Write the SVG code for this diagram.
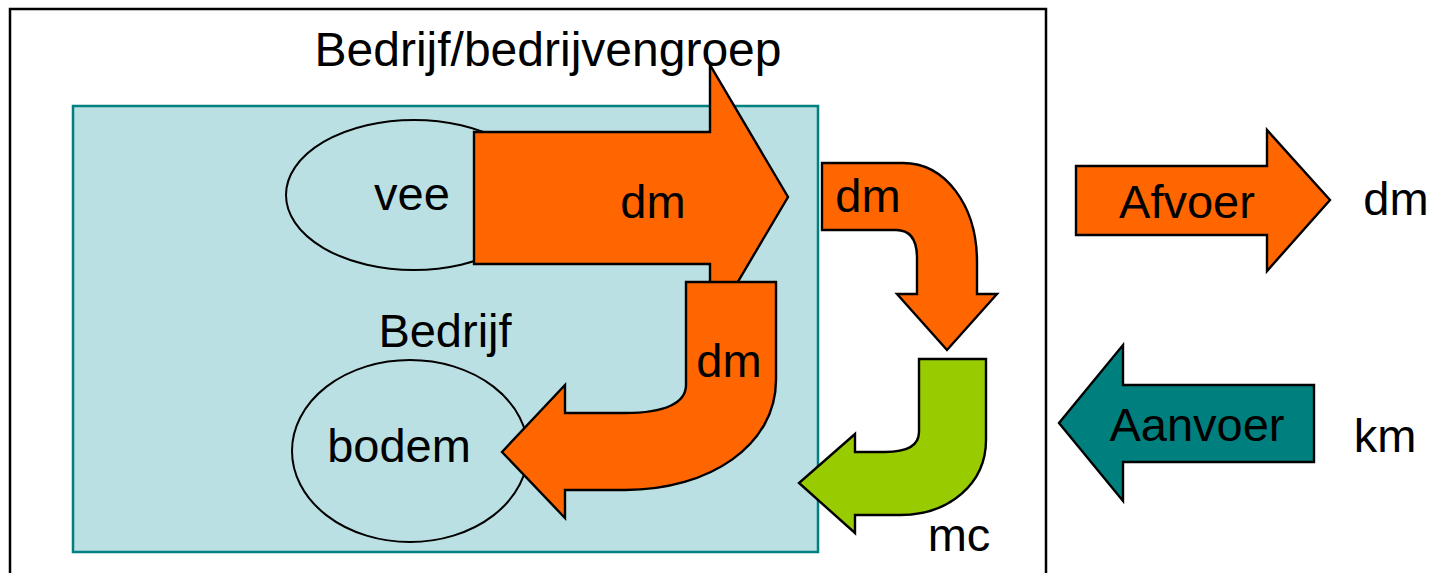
<svg xmlns="http://www.w3.org/2000/svg" width="1433" height="573" viewBox="0 0 1433 573">
  <style>
    text { font-family: "Liberation Sans", Arial, sans-serif; font-size: 47px; fill: #000; text-anchor: middle; }
    .title { font-size: 48px; }
    .outline { fill: #BBE0E3; stroke: #000; stroke-width: 2; }
    .orange { fill: #FF6600; stroke: #000; stroke-width: 2.4; stroke-linejoin: miter; }
    .green { fill: #99CC00; stroke: #000; stroke-width: 2.4; }
    .teal { fill: #007F7F; stroke: #000; stroke-width: 2.4; }
  </style>

  <rect width="1433" height="573" fill="#fff"/>

  <!-- group / company frame -->
  <g id="groep">
    <rect x="10" y="9" width="1036" height="590" fill="#fff" stroke="#000" stroke-width="2.5"/>
    <text class="title" x="548" y="66">Bedrijf/bedrijvengroep</text>
  </g>

  <!-- farm area -->
  <g id="bedrijf">
    <rect x="73" y="106" width="745" height="446" fill="#BBE0E3" stroke="#008080" stroke-width="2.5"/>
    <text x="445" y="347">Bedrijf</text>
  </g>

  <g id="vee">
    <ellipse class="outline" cx="414" cy="195" rx="128" ry="75"/>
    <text x="412" y="210">vee</text>
  </g>

  <g id="bodem">
    <ellipse class="outline" cx="410" cy="451" rx="118" ry="91"/>
    <text x="399" y="462">bodem</text>
  </g>

  <!-- flows -->
  <g id="connectors">
    <!-- vee -> out (dm) -->
    <g id="flow-vee">
      <path class="orange" d="M474 132 L710 132 L710 65 L788 197 L710 329 L710 264 L474 264 Z"/>
      <text x="653" y="218">dm</text>
    </g>
    <!-- dm -> bodem -->
    <g id="flow-bodem">
      <path class="orange" d="M686 282 L776 282 L776 380 C776 445 710 490 625 490 L565 490 L565 518 L502 452 L565 385 L565 413 L625 413 C665 413 686 403 686 385 Z"/>
      <text x="729" y="377">dm</text>
    </g>
    <!-- dm leaving the farm -->
    <g id="flow-uit">
      <path class="orange" d="M822 163 L903 163 C945 163 977 205 977 262 L977 294 L997 294 L947 350 L897 294 L917 294 L917 258 C917 240 910 230 896 230 L822 230 Z"/>
      <text x="868" y="212">dm</text>
    </g>
    <!-- mc returning to the farm -->
    <g id="flow-mc">
      <path class="green" d="M919 359 L986 359 L986 440 C986 483 950 515 900 515 L855 515 L855 533 L799 483 L855 434 L855 452 L885 452 C908 452 919 445 919 432 Z"/>
      <text x="959" y="551">mc</text>
    </g>
  </g>

  <!-- legend -->
  <g id="afvoer">
    <path class="orange" d="M1076 166 L1267 166 L1267 130 L1330 200 L1267 271 L1267 235 L1076 235 Z"/>
    <text x="1187" y="218">Afvoer</text>
    <text x="1396" y="215">dm</text>
  </g>

  <g id="aanvoer">
    <path class="teal" d="M1314 385 L1123 385 L1123 345 L1059 423 L1123 501 L1123 462 L1314 462 Z"/>
    <text x="1197" y="441">Aanvoer</text>
    <text x="1385" y="452">km</text>
  </g>
</svg>
